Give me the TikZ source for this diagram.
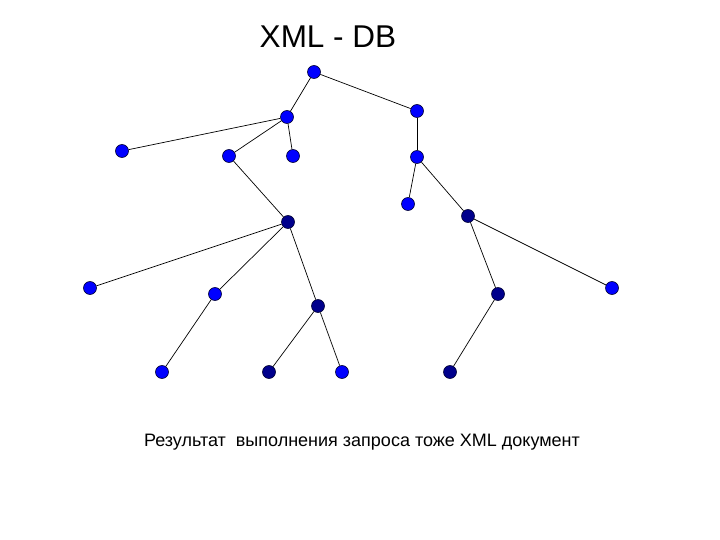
\documentclass[tikz,border=0pt]{standalone}
\usepackage{fontspec}
\setmainfont{Liberation Sans}
\usetikzlibrary{positioning}

\begin{document}
\begin{tikzpicture}[
        x=1pt, y=-1pt,
        vert/.style={circle, draw=black!80!blue, line width=0.6pt, fill=blue, minimum size=13pt, inner sep=0pt},
        dvert/.style={vert, fill=blue!55!black},
        edge/.style={draw=black, line width=0.7pt},
        title/.style={font=\fontsize{31.5}{32}\selectfont},
        caption/.style={font=\fontsize{18}{18}\selectfont}
      ]
      \useasboundingbox (0,0) rectangle (720,540);

      \node (T) [title] at (328,37) {XML - DB};

      \node (r) [vert] at (314,72) {};
      \node (a) [vert] at (287,117) {};
      \node (b) [vert] at (417,111) {};
      \node (c) [vert] at (122,151) {};
      \node (d) [vert] at (229,156) {};
      \node (e) [vert] at (293,156) {};
      \node (f) [vert] at (417,157) {};
      \node (g) [vert] at (408,204) {};
      \node (h) [dvert] at (288,222) {};
      \node (i) [dvert] at (468,216) {};
      \node (j) [vert] at (90,288) {};
      \node (k) [vert] at (215,294) {};
      \node (l) [dvert] at (318,306) {};
      \node (m) [dvert] at (498,294) {};
      \node (n) [vert] at (612,288) {};
      \node (o) [vert] at (162,372) {};
      \node (p) [dvert] at (269,372) {};
      \node (q) [vert] at (342,372) {};
      \node (s) [dvert] at (450,372) {};

      \foreach \u/\v in {r/a, r/b, a/c, a/d, a/e, b/f, d/h, f/g, f/i, h/j, h/k, h/l, k/o, l/p, l/q, i/m, i/n, m/s}
        \path[edge] (\u) -- (\v);

      \node (C) [caption] at (362,442) {Результат\ \ выполнения запроса тоже XML документ};

    \end{tikzpicture}
\end{document}
